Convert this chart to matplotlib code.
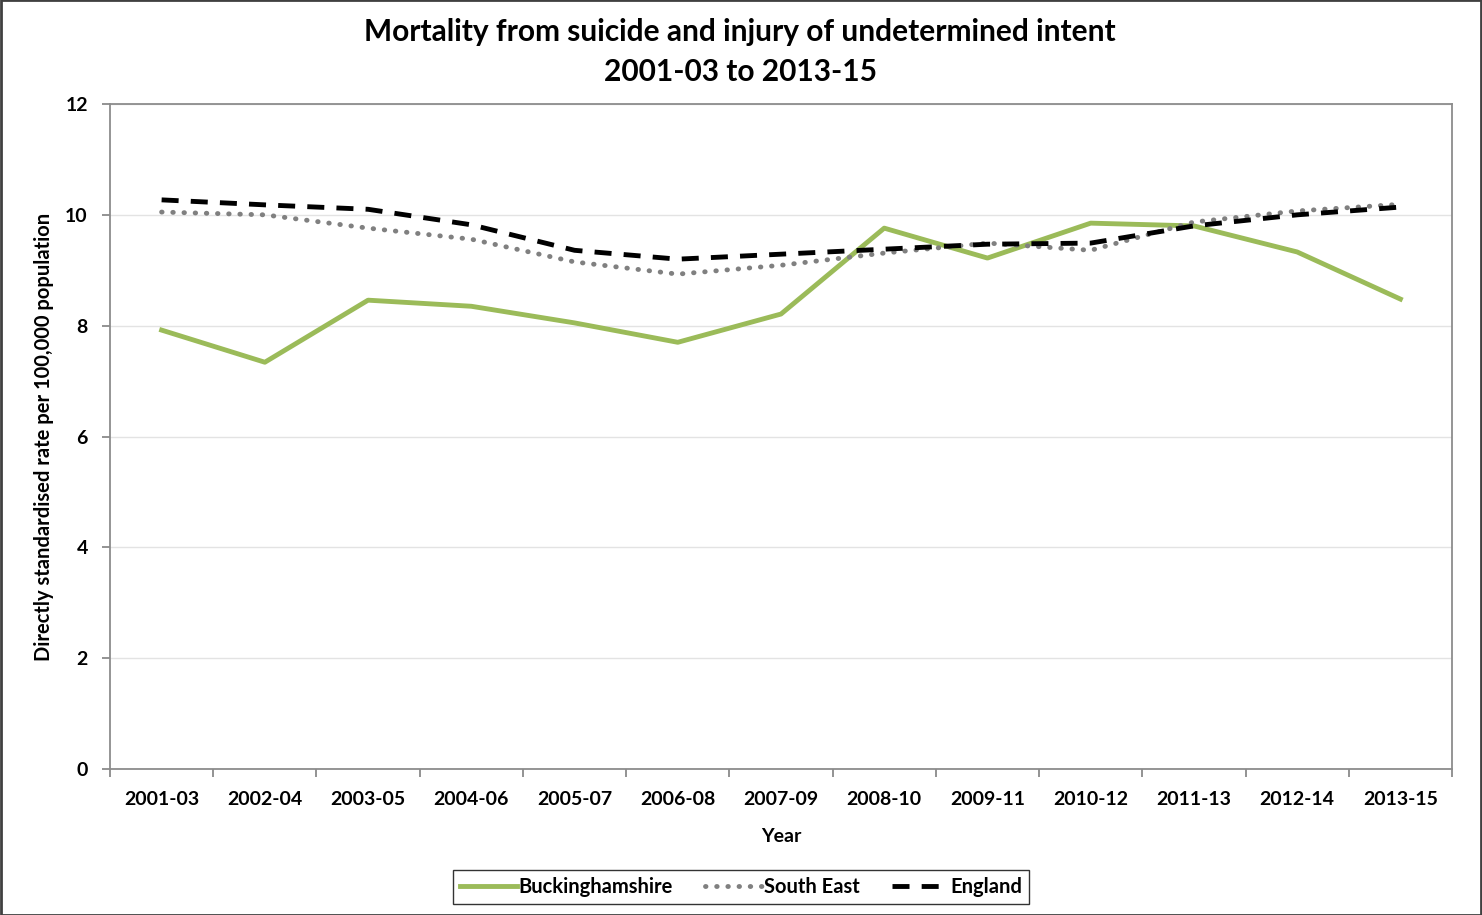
import matplotlib.pyplot as plt
import matplotlib.patches as mpatches
import numpy as np

periods = ['2001-03', '2002-04', '2003-05', '2004-06', '2005-07', '2006-08', '2007-09',
           '2008-10', '2009-11', '2010-12', '2011-13', '2012-14', '2013-15']
bucks = [7.92, 7.34, 8.46, 8.35, 8.05, 7.70, 8.21, 9.76, 9.22, 9.85, 9.80, 9.33, 8.48]
south_east = [10.05, 10.00, 9.76, 9.56, 9.15, 8.93, 9.09, 9.31, 9.49, 9.36, 9.87, 10.07, 10.19]
england = [10.27, 10.18, 10.10, 9.82, 9.36, 9.20, 9.29, 9.38, 9.47, 9.49, 9.80, 10.00, 10.14]

plt.rcParams['font.family'] = ['Lato', 'DejaVu Sans']
plt.rcParams['font.weight'] = 'bold'

fig = plt.figure(figsize=(14.82, 9.15), dpi=100)
ax = fig.add_axes([110 / 1482, 1 - 769 / 915, 1342 / 1482, 665 / 915])

x = np.arange(len(periods))
ax.plot(x, bucks, color='#9bbb59', lw=3.5, label='Buckinghamshire', zorder=3)
ax.plot(x, south_east, color='#808080', lw=3.5, ls=(0, (0.1, 2.2)), dash_capstyle='round',
        label='South East', zorder=4)
ax.plot(x, england, color='black', lw=3.5, ls=(0, (3.5, 2.5)), label='England', zorder=5)

ax.set_xlim(-0.5, len(periods) - 0.5)
ax.set_ylim(0, 12)
ax.set_yticks(range(0, 13, 2))
ax.set_xticks(x)
ax.set_xticklabels(periods, fontsize=14, fontweight='bold')
ax.tick_params(axis='x', length=0, pad=16)
ax.set_xticks(np.arange(-0.5, len(periods)), minor=True)
ax.tick_params(axis='x', which='minor', length=6, color='#808080', width=1.2)
ax.tick_params(axis='y', length=6, color='#808080', width=1.2, labelsize=14, pad=10)
for lbl in ax.get_yticklabels():
    lbl.set_fontweight('bold')

ax.grid(axis='y', color='#e3e3e3', lw=1)
ax.set_axisbelow(True)
for side in ['left', 'bottom', 'right', 'top']:
    ax.spines[side].set_color('#8c8c8c')
    ax.spines[side].set_linewidth(1.3)

ax.set_xlabel('Year', fontsize=14, fontweight='bold', labelpad=14)
ax.set_ylabel('Directly standardised rate per 100,000 population', fontsize=14.5,
              fontweight='bold', labelpad=8)

fig.text(740 / 1482, 1 - 52 / 915, 'Mortality from suicide and injury of undetermined intent\n2001-03 to 2013-15',
         ha='center', va='center', fontsize=21.5, fontweight='bold', linespacing=1.5)

leg = fig.legend(loc='center', bbox_to_anchor=(741 / 1482, 1 - 887 / 915), ncol=3,
                 fontsize=14.5, frameon=True, fancybox=False, edgecolor='black',
                 handlelength=2.8, handletextpad=0.1, columnspacing=1.6, borderpad=0.35)
leg.get_frame().set_linewidth(1.0)
for t in leg.get_texts():
    t.set_fontweight('bold')

# outer border of the chart
fig.patches.append(mpatches.Rectangle((0.0005, 0.0005), 0.999, 0.999, transform=fig.transFigure,
                                      fill=False, edgecolor='#404040', lw=2))

fig.savefig('out.png', dpi=100)
